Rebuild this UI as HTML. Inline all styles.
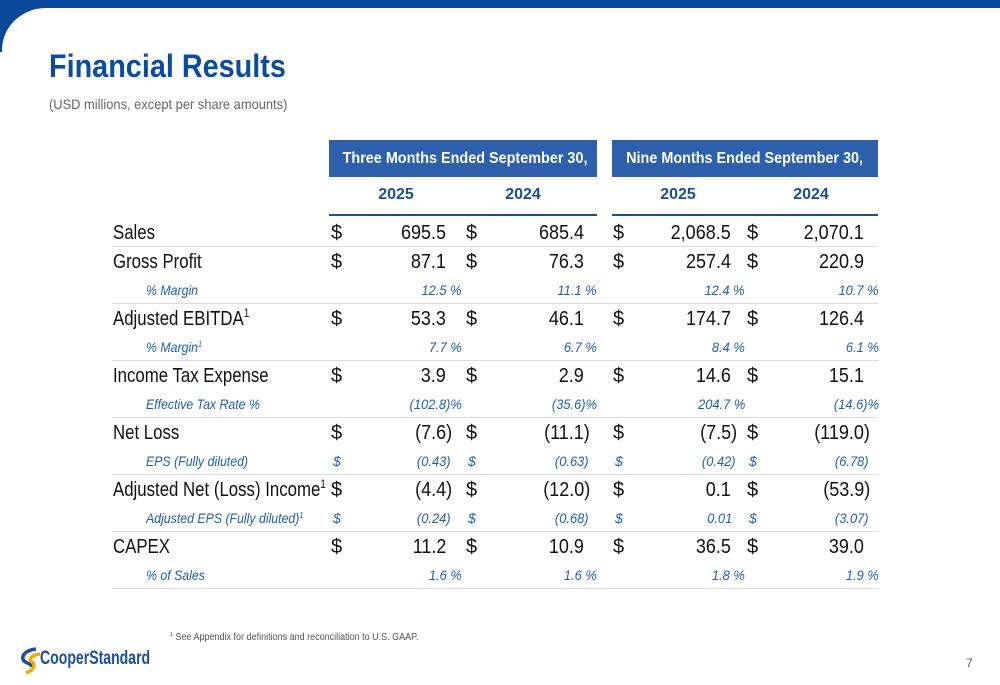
<!DOCTYPE html>
<html><head><meta charset="utf-8">
<style>
html,body{margin:0;padding:0;background:#fff;}
#slide{position:relative;width:1000px;height:685px;overflow:hidden;background:#fff;font-family:"Liberation Sans",Arial,sans-serif;}
.abs{position:absolute;white-space:nowrap;}
.main{font-size:20px;color:#111;line-height:24px;}
.sub{font-size:14px;font-style:italic;color:#1f5fae;line-height:16px;}
.hdr{background:#2d5fac;color:#fff;font-weight:bold;font-size:16px;text-align:center;line-height:37px;}
.yr{font-weight:bold;font-size:16px;color:#1a4f98;width:120px;text-align:center;}
.sp{position:relative;line-height:0;vertical-align:baseline;}
</style></head><body>
<div id="slide">
  <div class="abs" style="left:0;top:0;width:1000px;height:52px;background:#08489a;"></div>
  <div class="abs" style="left:2px;top:8px;width:1000px;height:700px;background:#fff;border-top-left-radius:44px 42px;"></div>
  <div class="abs" style="left:49px;top:48px;font-size:32px;font-weight:bold;color:#0a4d9e;transform:scaleX(0.9);transform-origin:left;">Financial Results</div>
  <div class="abs" style="left:49px;top:96px;font-size:14px;color:#666;transform:scaleX(0.92);transform-origin:left;">(USD millions, except per share amounts)</div>

  <div class="abs hdr" style="left:329px;top:140px;width:268px;height:37px;"><span style="display:inline-block;transform:scaleX(0.9);">Three Months Ended September 30,</span></div>
  <div class="abs hdr" style="left:612px;top:140px;width:266px;height:37px;"><span style="display:inline-block;transform:scaleX(0.9);">Nine Months Ended September 30,</span></div>
  <div class="abs yr" style="left:336px;top:186px;">2025</div>
  <div class="abs yr" style="left:463px;top:186px;">2024</div>
  <div class="abs yr" style="left:618px;top:186px;">2025</div>
  <div class="abs yr" style="left:751px;top:186px;">2024</div>
  <div class="abs" style="left:329px;top:214px;width:268px;height:2px;background:#1a4f98;"></div>
  <div class="abs" style="left:612px;top:214px;width:266px;height:2px;background:#1a4f98;"></div>

  <div id="tbl"></div>

  <div class="abs" style="left:170px;top:632px;font-size:10px;color:#555;transform:scaleX(0.9);transform-origin:left;"><span class="sp" style="font-size:6px;top:-4px">1</span> See Appendix for definitions and reconciliation to U.S. GAAP.</div>
  <div class="abs" style="left:18px;top:646px;">
    <svg width="30" height="30" viewBox="0 0 30 30" style="position:absolute;left:0;top:0;">
      <path d="M18 3 C8 4 2 10 6 15 C9 18 14 17 13 21" stroke="#1b4f9c" stroke-width="3.5" fill="none"/>
      <path d="M22 8 C14 9 10 13 14 16 C18 19 16 24 8 27" stroke="#f2a900" stroke-width="3.5" fill="none"/>
    </svg>
    <span style="position:absolute;left:22px;top:2px;font-size:19px;font-weight:bold;color:#1b4f9c;transform:scaleX(0.74);transform-origin:left;white-space:nowrap;">CooperStandard</span>
  </div>
  <div class="abs" style="left:966px;top:656px;font-size:12px;color:#555;">7</div>
</div>
<script>
const rowLabels = ["Sales","Gross Profit","% Margin","Adjusted EBITDA","% Margin","Income Tax Expense","Effective Tax Rate %","Net Loss","EPS (Fully diluted)","Adjusted Net (Loss) Income","Adjusted EPS (Fully diluted)","CAPEX","% of Sales"];
const rowKinds = ["main","main","pct","main","pct","main","pct","main","eps","main","eps","main","pct"];
const rowSup = [false,false,false,true,true,false,false,false,false,true,true,false,false];
const q3y2025 = ["695.5","87.1","12.5 %","53.3","7.7 %","3.9","(102.8)%","(7.6)","(0.43)","(4.4)","(0.24)","11.2","1.6 %"];
const q3y2024 = ["685.4","76.3","11.1 %","46.1","6.7 %","2.9","(35.6)%","(11.1)","(0.63)","(12.0)","(0.68)","10.9","1.6 %"];
const ytd2025 = ["2,068.5","257.4","12.4 %","174.7","8.4 %","14.6","204.7 %","(7.5)","(0.42)","0.1","0.01","36.5","1.8 %"];
const ytd2024 = ["2,070.1","220.9","10.7 %","126.4","6.1 %","15.1","(14.6)%","(119.0)","(6.78)","(53.9)","(3.07)","39.0","1.9 %"];
const series = [q3y2025,q3y2024,ytd2025,ytd2024];
const seriesNames = ["q3-2025","q3-2024","ytd-2025","ytd-2024"];

const slide = document.getElementById('slide');
const dollarX = [331,466,613,747];
const numRight = [446,584,731,864];
const pctRight = [462,597,745,879];
const rowY0 = 233, rowStep = 28.5;
function mk(cls, txt){ const d=document.createElement('div'); d.className='abs '+cls; d.innerHTML=txt; slide.appendChild(d); return d; }
rowLabels.forEach((lab,i)=>{
  const kind = rowKinds[i];
  const cy = rowY0 + i*rowStep;
  const isMain = kind==='main';
  const cls = isMain ? 'main':'sub';
  const lh = isMain?24:16;
  const top = cy - lh/2;
  const supHtml = isMain ? '<span class="sp" style="font-size:12px;top:-8px">1</span>' : '<span class="sp" style="font-size:8px;top:-5px">1</span>';
  const l = mk(cls, lab + (rowSup[i]?supHtml:''));
  
  
  l.style.left = (isMain?113:146)+'px'; l.style.top = top+'px';
  l.style.transform = 'scaleX('+(isMain?0.84:0.88)+')'; l.style.transformOrigin='left';
  series.forEach((arr,c)=>{
    if(kind!=='pct'){
      const d = mk(cls,'$');
      
      
      d.style.left = (dollarX[c] + (isMain?0:2))+'px'; d.style.top = top+'px';
    }
    const v = arr[i];
    const n = mk(cls, v);
    
    
    let r;
    if(kind==='pct'){ r = pctRight[c]; }
    else if(isMain){ r = numRight[c] + (v.endsWith(')') ? 6 : 0); }
    else { r = numRight[c] + (v.endsWith(')') ? 5 : 1); }
    n.style.right = (1000 - r)+'px'; n.style.top = top+'px';
    n.style.transform = 'scaleX('+(isMain?0.9:0.92)+')'; n.style.transformOrigin='right';
  });
  if(i===0 || kind!=='main'){
    const s = document.createElement('div');
    s.className='abs';
    
    
    s.style.left='112px'; s.style.width='766px'; s.style.height='1px'; s.style.background='#dcdcdc';
    s.style.top = (cy + rowStep/2 - 1)+'px';
    slide.appendChild(s);
  }
});
</script>
</body></html>
